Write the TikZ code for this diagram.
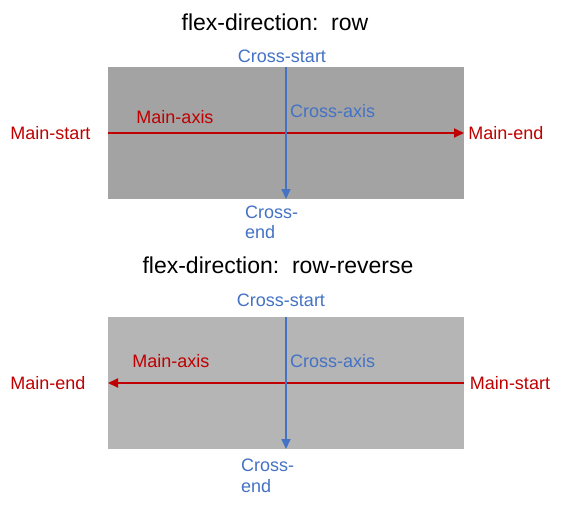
\documentclass[tikz,border=0pt]{standalone}
\usepackage{fontspec}
\setmainfont{Liberation Sans}
\usetikzlibrary{arrows.meta}
\definecolor{mainred}{HTML}{C00000}
\definecolor{crossblue}{HTML}{4472C4}
\definecolor{boxA}{HTML}{A3A3A3}
\definecolor{boxB}{HTML}{B5B5B5}
\tikzset{
  title/.style={font=\fontsize{23}{27}\selectfont, text=black, inner sep=0pt},
  redlbl/.style={font=\fontsize{18}{20}\selectfont, text=mainred, inner sep=0pt},
  bluelbl/.style={font=\fontsize{18}{20}\selectfont, text=crossblue, inner sep=0pt},
  mainarrow/.style={draw=mainred, line width=2pt, -{Triangle[length=10pt,width=9pt]}},
  crossarrow/.style={draw=crossblue, line width=1.6pt, -{Triangle[length=10pt,width=9pt]}}
}
\begin{document}
\begin{tikzpicture}[x=1pt,y=-1pt]
\useasboundingbox[fill=white] (0,0) rectangle (568,507);
% ---------- row ----------
\node[title] (t1) at (275,22) {flex-direction:\ \ row};
\fill[boxA] (108,67) rectangle (464,199);
\coordinate (m1s) at (108,133);
\coordinate (m1e) at (464,133);
\coordinate (c1s) at (286,67);
\coordinate (c1e) at (286,199);
\draw[mainarrow] (m1s) -- (m1e);
\draw[crossarrow] (c1s) -- (c1e);
\node[redlbl] (ms1) at (50.5,133) {Main-start};
\node[redlbl] (me1) at (506,133) {Main-end};
\node[redlbl] (ma1) at (175,117) {Main-axis};
\node[bluelbl] (cs1) at (282,56) {Cross-start};
\node[bluelbl, anchor=west] (ca1) at (290,111) {Cross-axis};
\node[bluelbl, anchor=north west, align=left] (ce1) at (245,205.5) {Cross-\\end};
% ---------- row-reverse ----------
\node[title] (t2) at (278,265) {flex-direction:\ \ row-reverse};
\fill[boxB] (108,317) rectangle (464,449);
\coordinate (m2s) at (464,383);
\coordinate (m2e) at (108,383);
\coordinate (c2s) at (286,317);
\coordinate (c2e) at (286,449);
\draw[mainarrow] (m2s) -- (m2e);
\draw[crossarrow] (c2s) -- (c2e);
\node[redlbl] (me2) at (48,383) {Main-end};
\node[redlbl] (ms2) at (510,383) {Main-start};
\node[redlbl] (ma2) at (171,361) {Main-axis};
\node[bluelbl] (cs2) at (281,300) {Cross-start};
\node[bluelbl, anchor=west] (ca2) at (290,361) {Cross-axis};
\node[bluelbl, anchor=north west, align=left, font=\fontsize{18}{21}\selectfont] (ce2) at (241,458.5) {Cross-\\end};
\end{tikzpicture}
\end{document}
